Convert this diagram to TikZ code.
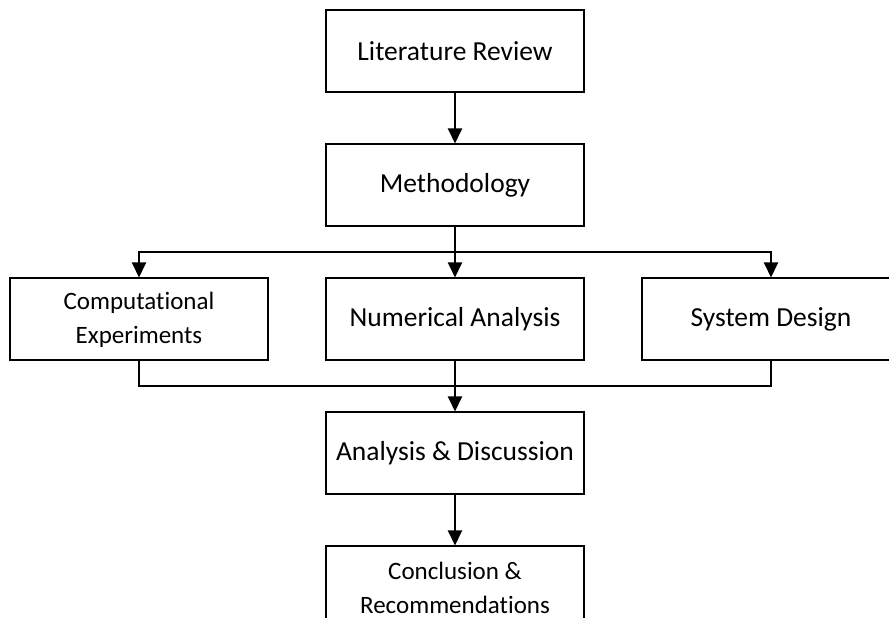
\documentclass[tikz,border=0pt]{standalone}
\usepackage{fontspec}
\setmainfont[Ligatures=NoCommon]{Carlito}
\usetikzlibrary{arrows.meta, positioning, calc}

\begin{document}
\begin{tikzpicture}[>={Triangle[length=15pt,width=14pt]}, node distance=50pt and 56pt,
  blk/.style={draw, line width=2pt, minimum width=258pt, minimum height=82pt,
    align=center, font=\fontsize{27.5}{32}\selectfont},
  sm/.style={font=\fontsize{25}{34}\selectfont},
  ln/.style={line width=2pt}]
\useasboundingbox (0,0) rectangle (889pt,618pt);
\clip (0,0) rectangle (889pt,618pt);
\node[blk] (lit) at (455pt,566.5pt) {Literature Review};
\node[blk, below=of lit] (meth) {Methodology};
\node[blk, below=of meth] (num) {Numerical Analysis};
\node[blk, sm, left=of num] (comp) {Computational\\ Experiments};
\node[blk, right=of num] (sys) {System Design};
\node[blk, below=of num] (disc) {Analysis \& Discussion};
\node[blk, sm, below=of disc] (concl) {Conclusion \&\\ Recommendations};
\coordinate (split) at ($(meth.south)!0.5!(num.north)$);
\coordinate (merge) at ($(num.south)!0.5!(disc.north)$);
\draw[->, ln] (lit) -- (meth);
\draw[->, ln] (meth) -- (num);
\draw[->, ln] (split) -| (comp);
\draw[->, ln] (split) -| (sys);
\draw[ln] (comp) |- (merge);
\draw[ln] (sys) |- (merge);
\draw[->, ln] (num) -- (disc);
\draw[->, ln] (disc) -- (concl);
\end{tikzpicture}
\end{document}
